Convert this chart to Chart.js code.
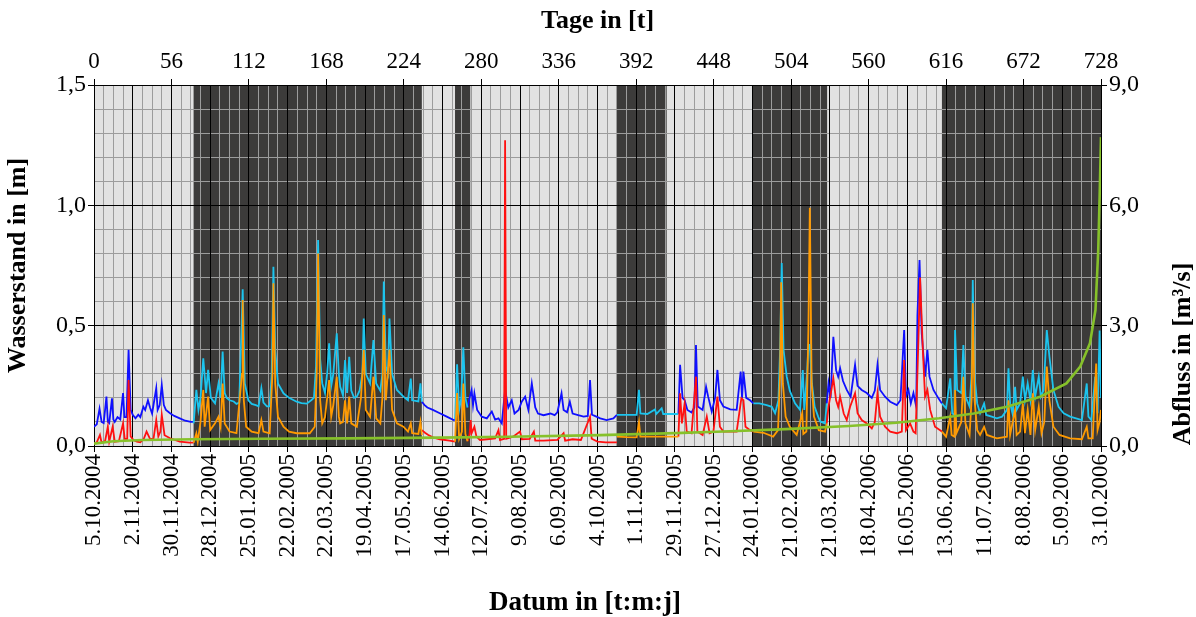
<!DOCTYPE html>
<html>
<head>
<meta charset="utf-8">
<script src="https://cdn.jsdelivr.net/npm/chart.js@4.4.1/dist/chart.umd.min.js"></script>
<style>
  html, body { margin: 0; padding: 0; background: #fff; }
  #chart { display: block; }
</style>
</head>
<body>
<canvas id="chart" width="1196" height="617"></canvas>
<script>
// bottom axis: one label every 28 days, starting 5.10.2004
const dateLabels = [
  '5.10.2004', '2.11.2004', '30.11.2004', '28.12.2004', '25.01.2005', '22.02.2005',
  '22.03.2005', '19.04.2005', '17.05.2005', '14.06.2005', '12.07.2005', '9.08.2005',
  '6.09.2005', '4.10.2005', '1.11.2005', '29.11.2005', '27.12.2005', '24.01.2006',
  '21.02.2006', '21.03.2006', '18.04.2006', '16.05.2006', '13.06.2006', '11.07.2006',
  '8.08.2006', '5.09.2006', '3.10.2006'
];

// day ranges drawn with the dark background
const darkPeriods = [[72, 237], [261, 272], [378, 414], [476, 530], [613, 728]];

// water level, upper gauge (blue: light periods), [day, m]
const levelBlue = [
  [0,0.08],[2,0.09],[4,0.155],[5.5,0.1],[7,0.095],[9,0.205],[10,0.1],[11,0.095],[13,0.198],[14,0.11],
  [15,0.1],[17,0.12],[19,0.11],[21,0.22],[22,0.12],[23.5,0.12],[25,0.40],[26.5,0.15],[28,0.13],[30,0.115],
  [32,0.13],[33.5,0.12],[35.7,0.163],[37,0.15],[39,0.19],[40.5,0.16],[42,0.135],[45,0.24],[46,0.15],
  [47.5,0.17],[49,0.253],[50.5,0.17],[52,0.15],[55,0.136],[58,0.125],[62,0.115],[66,0.105],[70,0.10],[72,0.1],
  [73,null],
  [237,0.184],[239,0.17],[241,0.16],[245,0.15],[250,0.136],[255,0.122],[260,0.108],[261,0.11],
  [265,null],
  [270,0.16],[271.5,0.2],[273,0.233],[274,0.17],[275,0.219],[277,0.15],[280.3,0.122],[284,0.115],
  [287.6,0.143],[290,0.11],[292.4,0.115],[294.8,0.094],[297.2,0.233],[299.5,0.16],[302,0.19],[304,0.135],
  [307,0.15],[309.2,0.184],[311.7,0.205],[314,0.15],[316.5,0.26],[319,0.16],[321,0.135],[325,0.128],
  [330,0.135],[333,0.128],[335,0.14],[338,0.219],[339.5,0.15],[342,0.14],[344,0.184],[346,0.135],
  [350,0.128],[354,0.122],[357,0.125],[358.6,0.274],[360,0.13],[362,0.125],[366,0.115],[370.6,0.108],
  [375.5,0.115],[378,0.129],
  [400,null],
  [422.5,0.133],[423.7,0.337],[425.5,0.2],[427,0.19],[429,0.15],[432,0.139],[434,0.16],[435.2,0.42],
  [436.5,0.164],[440,0.15],[442.5,0.246],[444,0.205],[446.6,0.143],[449,0.2],[450.7,0.316],[452.5,0.19],
  [455,0.164],[460,0.152],[464.6,0.15],[467.5,0.309],[468.5,0.2],[469.5,0.309],[471.5,0.2],[474.3,0.19],
  [476.7,0.177],
  [500,null],
  [529.7,0.177],[531,0.26],[532.5,0.2],[534.5,0.454],[536.5,0.315],[538,0.288],[539.4,0.323],[541.5,0.27],
  [544.2,0.233],[547,0.205],[550.2,0.337],[552,0.25],[555,0.233],[558.7,0.22],[562.3,0.2],[564.5,0.23],
  [566.4,0.337],[568.3,0.233],[571.9,0.205],[575.6,0.184],[580.4,0.17],[583,0.19],[585.7,0.482],[587,0.205],
  [588.8,0.233],[590.5,0.177],[592.4,0.22],[594.4,0.164],[595.3,0.544],[596.8,0.773],[598.4,0.468],
  [600.8,0.288],[602.5,0.4],[604,0.288],[606.9,0.233],[610.5,0.198],[613,0.177]
];

// water level, upper gauge (cyan: dark periods), [day, m]
const levelCyan = [
  [72,0.094],[74,0.233],[75.5,0.15],[77,0.2],[79,0.364],[81,0.22],[82.5,0.316],[84.5,0.2],[87.5,0.177],
  [90,0.26],[91.5,0.2],[93,0.392],[94.5,0.22],[96,0.2],[98,0.19],[101,0.185],[103,0.175],[105,0.18],
  [107.5,0.651],[109,0.26],[111.6,0.19],[114,0.175],[117,0.17],[119,0.165],[121,0.24],[122.5,0.18],
  [125,0.165],[127,0.165],[128.5,0.3],[129.7,0.745],[131,0.4],[133,0.26],[137,0.219],[141,0.2],
  [146.5,0.184],[150,0.178],[153.8,0.176],[157,0.19],[159,0.2],[160.5,0.33],[162,0.856],[163.5,0.36],
  [165,0.26],[167,0.22],[168.5,0.3],[170,0.427],[171.5,0.25],[173,0.3],[175.5,0.468],[177,0.3],
  [178,0.246],[180,0.21],[181.5,0.357],[183,0.22],[184.5,0.371],[186,0.23],[188,0.2],[190,0.205],
  [192,0.23],[194,0.3],[195,0.53],[196.5,0.3],[199.6,0.26],[202,0.44],[204,0.26],[207,0.23],[208.5,0.3],
  [209.5,0.683],[211,0.33],[212.5,0.3],[213.6,0.53],[215.5,0.3],[219,0.233],[223.7,0.205],[227,0.19],
  [229,0.28],[230,0.19],[234.5,0.185],[236,0.26],[237,0.184],
  [250,null],
  [261,0.11],[262.5,0.34],[264,0.15],[265.5,0.2],[267,0.41],[268.5,0.2],[270,0.16],
  [300,null],
  [378,0.129],[385,0.129],[392.3,0.129],[394,0.233],[395,0.135],[400,0.133],[405.6,0.152],[406.5,0.133],
  [410.4,0.157],[411.5,0.133],[416,0.133],[422.5,0.133],
  [450,null],
  [476.7,0.177],[481,0.177],[486.3,0.17],[490,0.163],[492.4,0.136],[494.8,0.19],[496,0.4],[497.2,0.76],
  [498.5,0.4],[500.8,0.288],[503,0.23],[506.8,0.177],[510.4,0.15],[512.4,0.316],[513.5,0.15],[515.5,0.3],
  [516.5,0.42],[517.5,0.42],[519,0.26],[521,0.163],[523.5,0.122],[525,0.102],[528.5,0.094],[529.7,0.177],
  [570,null],
  [613,0.177],[616,0.157],[619,0.281],[620.5,0.135],[622,0.13],[622.5,0.482],[624,0.233],[627,0.22],
  [628.5,0.42],[630,0.205],[633,0.164],[634.5,0.3],[635.3,0.69],[636.6,0.288],[638.5,0.177],[640.6,0.136],
  [643.5,0.177],[645,0.129],[649,0.122],[652.7,0.115],[656.5,0.122],[660,0.15],[661.1,0.323],[662.3,0.177],
  [664,0.136],[665.9,0.246],[667,0.15],[669.5,0.177],[671.5,0.288],[673,0.19],[675,0.26],[677,0.19],
  [678.7,0.316],[680.4,0.205],[683,0.288],[684.5,0.205],[686.5,0.233],[688.8,0.482],[690.7,0.372],
  [693.6,0.233],[697.3,0.163],[701,0.136],[705.7,0.122],[710,0.115],[714.2,0.108],[717.7,0.26],
  [718.9,0.122],[721,0.108],[723.8,0.288],[725.5,0.136],[727,0.48],[728,0.2]
];

// water level, lower gauge (red: light periods), [day, m]
const levelRed = [
  [0,0.011],[2,0.015],[4.3,0.046],[5.5,0.014],[8,0.02],[10,0.08],[11,0.018],[13.5,0.08],[15,0.018],
  [18,0.02],[21,0.094],[22.2,0.03],[24,0.03],[25,0.274],[26.5,0.04],[28.5,0.025],[31,0.018],[33.5,0.015],
  [36,0.03],[38,0.06],[40.5,0.03],[43,0.03],[45,0.108],[46.5,0.04],[48,0.06],[49,0.129],[51,0.045],
  [55,0.032],[62,0.018],[69,0.014],[72,0.014],
  [100,null],
  [237,0.066],[239.3,0.055],[241.7,0.046],[245,0.036],[250,0.028],[257,0.022],[261,0.018],
  [265,null],
  [270,0.02],[271.5,0.05],[272.3,0.108],[273,0.053],[275,0.08],[276.5,0.039],[279,0.025],[284,0.028],
  [290,0.032],[292.4,0.066],[293.5,0.025],[296.5,0.03],[297.2,1.27],[298,0.03],[303,0.039],[308,0.06],
  [309.3,0.028],[315,0.03],[318,0.06],[319,0.022],[325,0.022],[335,0.025],[339.5,0.053],[340.6,0.022],
  [346,0.028],[352,0.025],[358.6,0.122],[359.8,0.03],[364,0.018],[370,0.015],[378,0.015],
  [400,null],
  [422.5,0.039],[423.7,0.219],[425,0.094],[427,0.177],[428.5,0.06],[432,0.053],[435.2,0.288],[436.2,0.06],
  [440,0.046],[443,0.122],[445,0.053],[447.8,0.06],[450.7,0.205],[452.5,0.08],[455,0.06],[464.6,0.06],
  [468,0.198],[469.5,0.19],[471,0.08],[474.3,0.066],[476.7,0.06],
  [500,null],
  [529.7,0.094],[531,0.163],[534.5,0.281],[536.5,0.19],[538,0.163],[539.4,0.205],[542,0.135],[544.2,0.108],
  [546.6,0.163],[550.2,0.219],[552,0.136],[555,0.108],[558.7,0.094],[562.3,0.073],[564.5,0.1],[566.4,0.219],
  [568.3,0.122],[571.9,0.08],[575.6,0.06],[580.4,0.053],[584,0.06],[585.7,0.357],[587,0.066],[590,0.094],
  [592.4,0.06],[594,0.053],[596,0.44],[597.2,0.70],[599.2,0.4],[600.8,0.205],[602.5,0.233],[604.5,0.15],
  [608,0.08],[613,0.06]
];

// water level, lower gauge (orange: dark periods), [day, m]
const levelOrange = [
  [72,0.014],[74,0.053],[75,0.018],[77,0.1],[79,0.233],[80,0.08],[82.5,0.205],[84,0.066],[87.5,0.094],
  [90,0.122],[91.5,0.08],[93,0.26],[94.5,0.094],[98,0.06],[103,0.053],[107,0.3],[107.5,0.607],[108.3,0.19],
  [110,0.08],[114,0.06],[119,0.053],[121,0.108],[122.5,0.06],[127,0.053],[129,0.3],[129.7,0.676],[131,0.26],
  [133,0.122],[137,0.08],[141,0.06],[146.5,0.053],[156,0.053],[159.6,0.08],[161,0.3],[162,0.80],[163.5,0.19],
  [165,0.094],[167,0.12],[170,0.274],[171.5,0.122],[173,0.17],[175.5,0.288],[177,0.122],[178,0.094],
  [180,0.1],[181.5,0.19],[183,0.094],[184.5,0.205],[186,0.094],[190,0.08],[193,0.2],[195,0.4],[196.5,0.15],
  [199.6,0.122],[202,0.288],[204,0.115],[207,0.094],[208.5,0.2],[209.5,0.544],[211,0.19],[213.6,0.4],
  [215.5,0.15],[219,0.094],[223.7,0.08],[227,0.06],[229,0.094],[230,0.053],[234.5,0.05],[236,0.1],[237,0.045],
  [250,null],
  [261,0.018],[262.5,0.22],[264,0.03],[266,0.06],[267,0.26],[268.5,0.05],[270,0.02],
  [300,null],
  [378,0.039],[385,0.037],[392.3,0.036],[394,0.1],[395,0.039],[405,0.039],[414,0.039],[422.5,0.039],
  [450,null],
  [476.7,0.06],[484,0.055],[491,0.039],[494.5,0.066],[496,0.3],[496.8,0.68],[498,0.26],[500,0.122],
  [503,0.08],[508,0.046],[512,0.136],[512.8,0.05],[515,0.06],[516.5,0.5],[517.5,0.99],[518.8,0.26],
  [520.5,0.122],[524,0.066],[528.5,0.06],[529.7,0.094],
  [570,null],
  [613,0.06],[616,0.039],[619,0.122],[620,0.046],[622,0.039],[622.5,0.233],[623.5,0.053],[627,0.1],
  [628.5,0.288],[630,0.094],[633,0.046],[634.5,0.2],[635.3,0.593],[636.6,0.19],[638.5,0.066],[640.6,0.046],
  [643.5,0.08],[645.5,0.046],[652.7,0.032],[660,0.039],[661.1,0.19],[662.3,0.046],[665.9,0.15],[667,0.046],
  [669.5,0.06],[671.5,0.177],[673,0.053],[675,0.15],[677,0.046],[678.7,0.219],[680.4,0.066],[683,0.163],
  [685,0.053],[687,0.1],[688.8,0.33],[690.7,0.19],[693.6,0.08],[698,0.046],[705.7,0.032],[714.2,0.028],
  [717.7,0.08],[718.9,0.032],[722,0.032],[724.5,0.343],[725.5,0.066],[727,0.1],[728,0.15]
];

// discharge, right axis, [day, m³/s]
const discharge = [
  [0,0.06],[14,0.12],[35,0.15],[72,0.17],[120,0.18],[185,0.19],[250,0.21],[300,0.23],[366,0.27],
  [420,0.32],[455,0.36],[500,0.42],[546,0.5],[580,0.58],[611,0.69],[636,0.81],[660,0.98],[684,1.23],
  [703,1.56],[713,1.98],[720,2.56],[724,3.39],[726,4.88],[727,6.2],[728,7.7]
];

const serif = 'Liberation Serif, Times New Roman, serif';
const tickFont = { family: serif, size: 23 };
const levelTickFont = { family: serif, size: 24 };
const titleFont = { family: serif, size: 26, weight: 'bold' };
const comma = (v) => v.toFixed(1).replace('.', ',');
const toPoints = (rows) => rows.map(([x, y]) => ({ x, y }));

// white page, light plot area and the dark periods underneath the grid
const periodShading = {
  id: 'periodShading',
  beforeDraw (chart) {
    let { ctx, chartArea, scales: { x } } = chart;
    ctx.save();
    ctx.fillStyle = '#fff';
    ctx.fillRect(0, 0, chart.width, chart.height);
    ctx.fillStyle = '#e2e2e2';
    ctx.fillRect(chartArea.left, chartArea.top, chartArea.width, chartArea.height);
    ctx.fillStyle = '#3c3b3a';
    darkPeriods.forEach(([from, to]) => {
      let x0 = x.getPixelForValue(from);
      let x1 = x.getPixelForValue(to);
      ctx.fillRect(x0, chartArea.top, x1 - x0, chartArea.height);
    });
    ctx.restore();
  },
};

// bottom and right axis titles (the right one reads upwards like the left one)
const sideTitles = {
  id: 'sideTitles',
  afterDraw (chart) {
    let { ctx } = chart;
    ctx.save();
    ctx.fillStyle = '#000';
    ctx.textAlign = 'center';
    ctx.textBaseline = 'middle';
    ctx.font = 'bold 27px ' + serif;
    ctx.fillText('Datum in [t:m:j]', 585, 603);
    ctx.translate(chart.width - 13, 354);
    ctx.rotate(-Math.PI / 2);
    ctx.font = 'bold 26px ' + serif;
    ctx.fillText('Abfluss in [m³/s]', 0, 0);
    ctx.restore();
  },
};

const lineSet = (label, rows, color, axis, width) => ({
  label,
  data: toPoints(rows),
  borderColor: color,
  backgroundColor: color,
  borderWidth: width,
  pointRadius: 0,
  tension: 0,
  spanGaps: false,
  yAxisID: axis,
});

new Chart(document.getElementById('chart'), {
  type: 'line',
  data: {
    datasets: [
      lineSet('Abfluss', discharge, '#86c12a', 'y2', 2.6),
      lineSet('Wasserstand unten', levelOrange, '#ff9a00', 'y', 1.8),
      lineSet('Wasserstand unten', levelRed, '#ff1010', 'y', 1.8),
      lineSet('Wasserstand oben', levelCyan, '#1cc4ee', 'y', 1.8),
      lineSet('Wasserstand oben', levelBlue, '#1010ff', 'y', 1.8),
    ],
  },
  options: {
    responsive: false,
    animation: false,
    events: [],
    layout: { padding: 0 },
    plugins: { legend: { display: false }, tooltip: { enabled: false } },
    scales: {
      x: {
        type: 'linear', position: 'bottom', min: 0, max: 728,
        afterFit: (s) => { s.height = 171; },
        ticks: {
          stepSize: 28, autoSkip: false, minRotation: 90, maxRotation: 90,
          padding: 2, color: '#000', font: tickFont,
          callback: (v, i) => dateLabels[i],
        },
        grid: { color: '#000', tickColor: '#000', tickLength: 6 },
        border: { color: '#000' },
      },
      xMinor: {
        type: 'linear', position: 'bottom', min: 0, max: 728,
        afterFit: (s) => { s.height = 0; },
        ticks: { display: false, stepSize: 7, autoSkip: false },
        grid: { color: '#9c9c9c', drawTicks: false, z: -2 },
        border: { display: false },
      },
      xTop: {
        type: 'linear', position: 'top', min: 0, max: 728,
        afterFit: (s) => { s.height = 85; },
        ticks: { stepSize: 56, autoSkip: false, maxRotation: 0, padding: 3, color: '#000', font: tickFont },
        grid: { drawOnChartArea: false, tickColor: '#000', tickLength: 6 },
        border: { color: '#000' },
        title: { display: true, text: 'Tage in [t]', color: '#000', font: titleFont, padding: { top: 6, bottom: 0 } },
      },
      y: {
        position: 'left', min: 0, max: 1.5,
        afterFit: (s) => { s.width = 94; },
        ticks: { stepSize: 0.5, padding: 2, color: '#000', font: levelTickFont, callback: comma },
        grid: { color: '#000', tickColor: '#000', tickLength: 6 },
        border: { color: '#000' },
        title: { display: true, text: 'Wasserstand in [m]', color: '#000', font: titleFont, padding: { top: 3, bottom: 0 } },
      },
      yMinor: {
        position: 'left', min: 0, max: 1.5,
        afterFit: (s) => { s.width = 0; },
        ticks: { display: false, stepSize: 0.1 },
        grid: { color: '#9c9c9c', drawTicks: false, z: -2 },
        border: { display: false },
      },
      y2: {
        position: 'right', min: 0, max: 9,
        afterFit: (s) => { s.width = 95; },
        ticks: { stepSize: 3, padding: 2, color: '#000', font: levelTickFont, callback: comma },
        grid: { drawOnChartArea: false, tickColor: '#000', tickLength: 6 },
        border: { color: '#000' },
      },
    },
  },
  plugins: [periodShading, sideTitles],
});
</script>
</body>
</html>
